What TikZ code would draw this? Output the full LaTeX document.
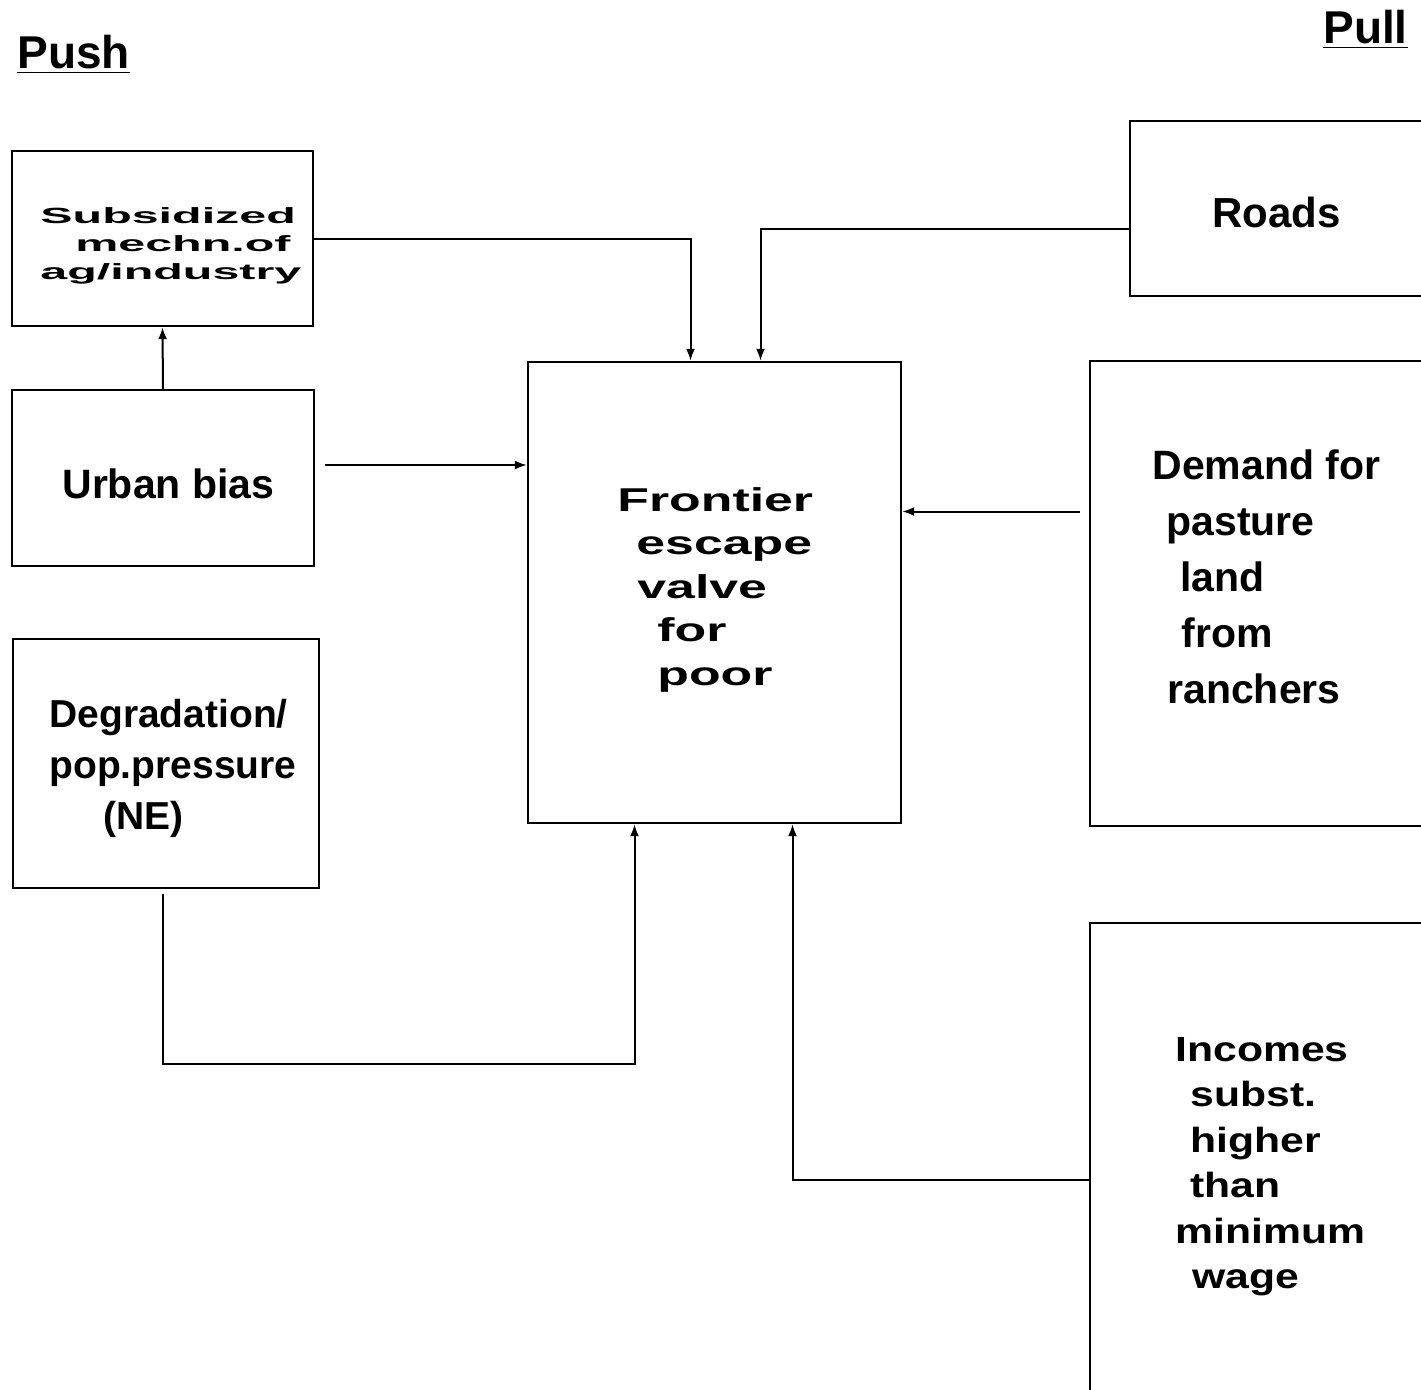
\documentclass[tikz,border=0pt]{standalone}
\usepackage{fontspec}
\setmainfont{Liberation Sans}
\newfontfamily\widefont{Liberation Sans}[FakeStretch=2.2]
\newfontfamily\extfont{Liberation Sans}[FakeStretch=1.57]
\newfontfamily\midfont{Liberation Sans}[FakeStretch=1.22]
\usepackage{tikz}
\usetikzlibrary{arrows.meta}

\begin{document}
\begin{tikzpicture}[x=0.5pt,y=0.5pt,yscale=-1,xscale=1,
  box/.style={draw, line width=1.2pt, inner sep=0pt},
  txt/.style={anchor=north west, inner sep=0pt, align=left},
  link/.style={line width=1pt, -{Latex[length=6pt,width=4.5pt]}}]
\useasboundingbox (0,0) rectangle (1421,1389);
\clip (0,0) rectangle (1421,1389);

% Headings
\node[txt, font=\fontsize{23}{27}\selectfont\bfseries] (push) at (17,35) {\underline{Push}};
\node[txt, font=\fontsize{23}{27}\selectfont\bfseries] (pull) at (1323,10) {\underline{Pull}};

% Push side boxes
\node[box, minimum width=150.5pt, minimum height=87.5pt] (subsid) at (162.5,238.5) {};
\node[txt, font=\widefont\fontsize{11}{14}\selectfont\bfseries] (subsid-text) at (40,207)
  {Subsidized\\\hspace*{17.5pt}mechn.of\\ag/industry};
\node[box, minimum width=151pt, minimum height=88pt] (urban) at (163,478) {};
\node[txt, font=\fontsize{20.5}{25}\selectfont\bfseries] (urban-text) at (62,468) {Urban bias};
\node[box, minimum width=153pt, minimum height=124.5pt] (degrade) at (166,763.5) {};
\node[txt, font=\fontsize{19.5}{25.5}\selectfont\bfseries] (degrade-text) at (49,699)
  {Degradation/\\pop.pressure\\\hspace*{27pt}(NE)};

% Centre box
\node[box, minimum width=186.5pt, minimum height=230.5pt] (frontier) at (714.5,592.5) {};
\node[txt, font=\extfont\fontsize{16.5}{21.75}\selectfont\bfseries] (frontier-text) at (617,487)
  {Frontier\\\hspace*{9.5pt}escape\\\hspace*{10pt}valve\\\hspace*{20pt}for\\\hspace*{20pt}poor};

% Pull side boxes
\node[box, minimum width=148pt, minimum height=87.5pt] (roads) at (1278,208.5) {};
\node[txt, font=\fontsize{21}{25}\selectfont\bfseries] (roads-text) at (1212,197) {Roads};
\node[box, minimum width=175pt, minimum height=232.5pt] (demand) at (1265,593.5) {};
\node[txt, font=\fontsize{20.5}{28}\selectfont\bfseries] (demand-text) at (1152,449)
  {Demand for\\\hspace*{7pt}pasture\\\hspace*{14pt}land\\\hspace*{14.5pt}from\\\hspace*{7.5pt}ranchers};
\node[box, minimum width=180pt, minimum height=239pt] (incomes) at (1270,1162) {};
\node[txt, font=\midfont\fontsize{17.5}{22.7}\selectfont\bfseries] (incomes-text) at (1175,1037)
  {Incomes\\\hspace*{7.5pt}subst.\\\hspace*{7.5pt}higher\\\hspace*{7.5pt}than\\minimum\\\hspace*{8.5pt}wage};

% Connectors
\draw[link] (urban.north) -- (subsid.south);
\draw[link] (subsid.east) -| ([xshift=-12pt]frontier.north);
\draw[link] ([yshift=10pt]roads.west) -| ([xshift=23pt]frontier.north);
\coordinate (ub-out) at ([xshift=5pt,yshift=-6.5pt]urban.east);
\draw[link] (ub-out) -- (ub-out -| frontier.west);
\coordinate (dm-out) at ([xshift=-4.5pt,yshift=-41pt]demand.west);
\draw[link] (dm-out) -- (dm-out -| frontier.east);
\coordinate (fr-in1) at ([xshift=-40pt]frontier.south);
\draw[link] ([xshift=-1.5pt,yshift=2.5pt]degrade.south) |- ([yshift=120pt]fr-in1) -- (fr-in1);
\draw[link] ([yshift=9pt]incomes.west) -| ([xshift=39pt]frontier.south);

\end{tikzpicture}
\end{document}
